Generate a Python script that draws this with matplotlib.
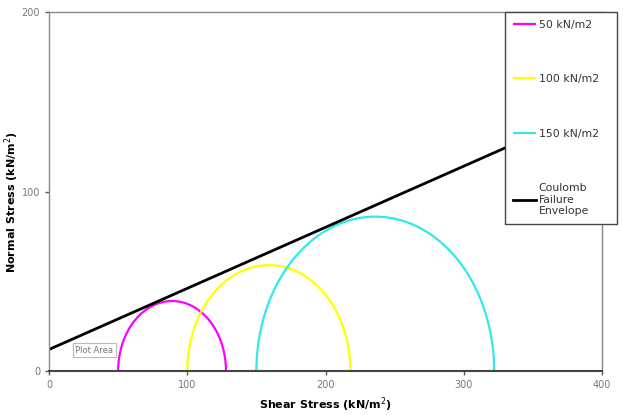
import numpy as np
from matplotlib import pyplot as plt

# confining pressures and Mohr circle ends (shear stress axis)
labels = ["50 kN/m2", "100 kN/m2", "150 kN/m2"]
sigma3 = [50, 100, 150]
sigma1 = [128, 218, 322]
colors = ["#ff00ff", "#ffff00", "#33e8e8"]

# Coulomb envelope: cohesion and friction angle
cohesion = 12
phi_deg = 18.8
env_x = [0, 400]

fig = plt.figure(figsize=(6.23, 4.15), dpi=100)
ax = fig.add_axes([0.0787, 0.106, 0.8876, 0.865])

handles = []
for s3, s1, c, lab in zip(sigma3, sigma1, colors, labels):
    centre = (s1 + s3) / 2.0
    r = (s1 - s3) / 2.0
    t = np.linspace(0, np.pi, 200)
    h, = ax.plot(centre + r * np.cos(t), r * np.sin(t), color=c, lw=1.6,
                 label=lab, solid_capstyle="butt")
    handles.append(h)

slope = np.tan(np.radians(phi_deg))
env_y = [cohesion + slope * x for x in env_x]
h, = ax.plot(env_x, env_y, color="black", lw=2.0,
             label="Coulomb\nFailure\nEnvelope")
handles.append(h)

ax.set_xlim(0, 400)
ax.set_ylim(0, 200)
ax.set_xticks([0, 100, 200, 300, 400])
ax.set_yticks([0, 100, 200])
ax.tick_params(colors="#555555", labelcolor="#777777", labelsize=7,
               length=3, width=1, direction="out")
for side in ["top", "right", "left"]:
    ax.spines[side].set_color("#888888")
    ax.spines[side].set_linewidth(1.0)
ax.spines["bottom"].set_color("#444444")
ax.spines["bottom"].set_linewidth(1.5)

ax.set_xlabel("Shear Stress (kN/m$^2$)", fontsize=8, fontweight="bold",
              labelpad=4)
ax.set_ylabel("Normal Stress (kN/m$^2$)", fontsize=8, fontweight="bold")
ax.yaxis.set_label_coords(-0.051, 0.47)

ax.text(0.047, 0.058, "Plot Area", transform=ax.transAxes, fontsize=6,
        color="#777777", va="center",
        bbox=dict(boxstyle="square,pad=0.3", fc="white", ec="#bbbbbb", lw=0.8))

leg = fig.legend(handles=handles, loc="upper left",
                 bbox_to_anchor=(0.8106, 0.4506, 0.18, 0.52), mode="expand",
                 fontsize=7.8, frameon=True, fancybox=False, framealpha=1,
                 borderpad=0.7, labelspacing=4.1, handlelength=2.2,
                 handletextpad=0.2, borderaxespad=0)
leg.get_frame().set_edgecolor("#444444")
leg.get_frame().set_linewidth(1.0)
for t in leg.get_texts():
    t.set_color("#333333")

fig.savefig("out.png", dpi=100)
